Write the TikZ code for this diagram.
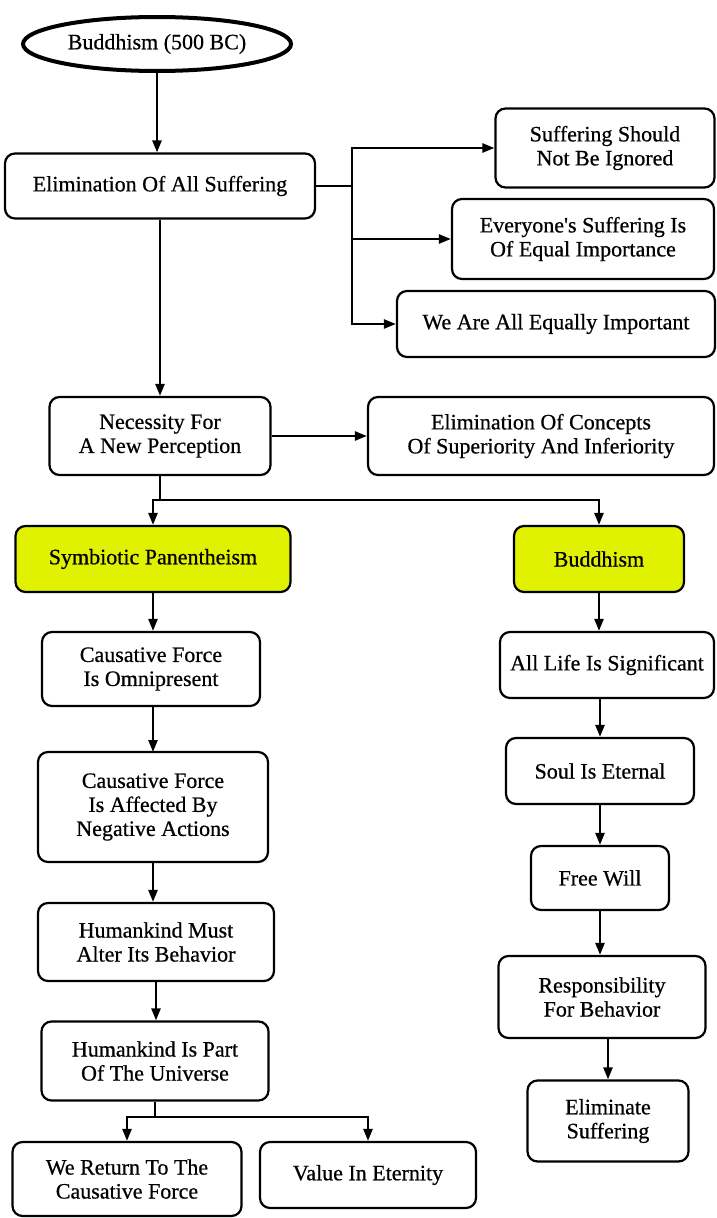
\documentclass[tikz,border=0pt]{standalone}
\usepackage{fontspec}
\setmainfont{Liberation Serif}[FakeBold=0.6]
\usetikzlibrary{arrows.meta,shapes.geometric}
\definecolor{hl}{RGB}{224,242,0}
\tikzset{
  box/.style={draw, line width=2.2pt, rounded corners=10pt, align=center, inner sep=0pt, fill=white,
    font=\fontsize{22}{24}\selectfont},
  hbox/.style={box, fill=hl},
  conn/.style={line width=2.4pt},
  arr/.style={conn, -{Triangle[length=12pt,width=9pt]}}
}
\begin{document}
\begin{tikzpicture}[x=1pt,y=-1pt]
\useasboundingbox (0,0) rectangle (717,1218);
\node[draw, ellipse, line width=4pt, minimum width=268pt, minimum height=54pt, inner sep=0pt,
  font=\fontsize{22}{24}\selectfont] (ell) at (157,44) {Buddhism (500 BC)};
\node[box, minimum width=310pt, minimum height=65pt] (elim) at (160,186) {Elimination Of All Suffering};
\node[box, minimum width=219pt, minimum height=79pt] (s1) at (605,148) {Suffering Should\\Not Be Ignored};
\node[box, minimum width=262pt, minimum height=80pt] (s2) at (583,239) {Everyone\textquotesingle s Suffering Is\\Of Equal Importance};
\node[box, minimum width=318pt, minimum height=66pt] (s3) at (556,324) {We Are All Equally Important};
\node[box, minimum width=221pt, minimum height=78pt] (nec) at (160,436) {Necessity For\\A New Perception};
\node[box, minimum width=346pt, minimum height=78pt] (conc) at (541,436) {Elimination Of Concepts\\Of Superiority And Inferiority};
\node[hbox, minimum width=275pt, minimum height=66pt] (sym) at (153,559) {Symbiotic Panentheism};
\node[hbox, minimum width=170pt, minimum height=66pt] (bud) at (599,559) {Buddhism};
\node[box, minimum width=218pt, minimum height=74pt] (c1) at (151,669) {Causative Force\\Is Omnipresent};
\node[box, minimum width=214pt, minimum height=66pt] (a1) at (607,665) {All Life Is Significant};
\node[box, minimum width=230pt, minimum height=110pt] (c2) at (153,807) {Causative Force\\Is Affected By\\Negative Actions};
\node[box, minimum width=188pt, minimum height=66pt] (a2) at (600,771) {Soul Is Eternal};
\node[box, minimum width=138pt, minimum height=64pt] (a3) at (600,878) {Free Will};
\node[box, minimum width=236pt, minimum height=78pt] (c3) at (156,942) {Humankind Must\\Alter Its Behavior};
\node[box, minimum width=207pt, minimum height=82pt] (a4) at (602,997) {Responsibility\\For Behavior};
\node[box, minimum width=227pt, minimum height=79pt] (c4) at (155,1061) {Humankind Is Part\\Of The Universe};
\node[box, minimum width=161pt, minimum height=81pt] (a5) at (608,1121) {Eliminate\\Suffering};
\node[box, minimum width=229pt, minimum height=74pt] (b1) at (127,1179) {We Return To The\\Causative Force};
\node[box, minimum width=216pt, minimum height=66pt] (b2) at (368,1175) {Value In Eternity};
% connectors
\draw[arr] (ell.south) -- (ell.south |- elim.north);
\coordinate (br) at (352,186);
\draw[conn] (elim.east) -- (br);
\draw[arr] (br) |- (s1.west);
\draw[arr] (br) |- (s2.west);
\draw[arr] (br) |- (s3.west);
\draw[arr] (elim.south) -- (nec.north);
\draw[arr] (nec.east) -- (conc.west);
\coordinate (j1) at (160,500);
\draw[conn] (nec.south) -- (j1);
\draw[arr] (j1) -| (sym.north);
\draw[arr] (j1) -| (bud.north);
\draw[arr] (sym.south) -- (sym.south |- c1.north);
\draw[arr] (c1.south -| 153,0) -- (153,752);
\draw[arr] (c2.south) -- (c2.south |- c3.north);
\draw[arr] (c3.south) -- (c3.south |- c4.north);
\coordinate (j2) at (155,1117);
\draw[conn] (c4.south) -- (j2);
\draw[arr] (j2) -| (b1.north);
\draw[arr] (j2) -| (b2.north);
\draw[arr] (bud.south) -- (bud.south |- a1.north);
\draw[arr] (a1.south -| a2.north) -- (a2.north);
\draw[arr] (a2.south) -- (a3.north);
\draw[arr] (a3.south) -- (a3.south |- a4.north);
\draw[arr] (a4.south -| a5.north) -- (a5.north);
\end{tikzpicture}
\end{document}
